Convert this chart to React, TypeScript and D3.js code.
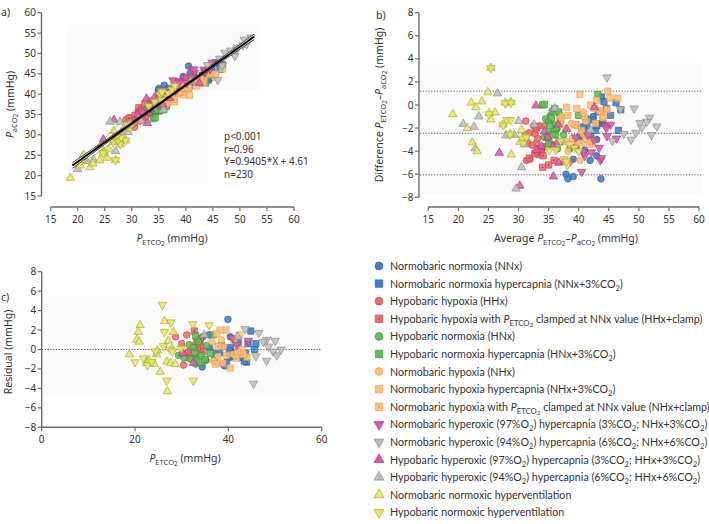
import React from "react";
import * as d3 from "d3";

// ---------- DATA ----------
// Panel b (Bland–Altman): [average of PETCO2 & PaCO2, difference PETCO2 − PaCO2]
const nnxB = [[37.9,-6.0],[38.2,-6.4],[39.1,-6.2],[43.7,-6.4],[41.9,-4.8],[43.0,-4.4],[41.0,-3.9],[39.6,-3.6],[40.5,-2.2],[41.4,-1.8],[42.4,-1.0],[43.0,-3.0],[39.1,-4.7],[38.5,-3.8],[42.0,-2.6],[44.0,-1.5],[40.0,-2.9]];
const nnxCo2B = [[43.8,0.7],[44.6,-0.3],[45.3,-0.9],[46.6,-2.2],[47.0,-0.4],[46.2,0.2],[42.4,-1.3],[40.2,-2.8],[41.6,-2.5],[43.8,-1.6],[43.2,-0.6],[41.2,-1.2],[42.8,-2.2],[44.2,0.3],[40.8,-1.9],[43.0,-1.8]];
const hhxB = [[31.2,-1.4],[31.2,-2.55],[31.8,-2.4],[32.7,-2.5],[33.0,-2.1],[31.3,-3.2],[31.6,-3.3],[32.3,-3.5],[33.0,-3.3],[31.3,-4.8],[31.9,-4.7],[33.5,-1.8],[33.2,-2.9],[34.3,-1.8],[32.5,-1.8]];
const hhxClampB = [[33.2,-4.1],[33.8,-4.0],[34.0,-5.4],[35.0,-5.2],[35.9,-4.8],[31.8,-4.6],[33.4,-4.3],[33.6,-3.8],[34.4,-3.6],[32.9,-1.9],[34.1,-4.4],[35.5,-3.5],[32.7,-4.2]];
const hnxB = [[34.5,-1.2],[35.0,-1.4],[35.3,-0.9],[35.8,-2.2],[36.2,-2.6],[34.9,-2.9],[35.5,-3.4],[36.5,-3.8],[37.0,-1.4],[36.8,-0.8],[35.0,-2.4],[34.3,-2.8],[37.5,-2.6],[36.0,-1.7],[35.6,-0.5],[37.2,-3.2],[36.4,-2.1],[34.8,-3.6]];
const hnxCo2B = [[34.0,0.0],[34.3,0.05],[36.0,-0.3],[36.7,-0.6],[35.5,-1.1],[35.0,-3.4],[36.3,-2.0],[34.8,-2.8],[43.2,0.9],[40.0,-0.9],[37.0,-1.1],[35.7,-2.6],[35.2,-1.8]];
const nhxB = [[40.8,-0.6],[37.2,-1.0],[38.8,-1.6],[39.5,-1.8],[39.8,-3.3],[40.2,-4.8],[38.2,-4.0],[41.2,-1.4],[38.0,-3.2],[40.7,-2.5],[39.3,-2.9],[37.7,-2.0],[36.8,-1.2]];
const nhxCo2B = [[40.2,0.9],[44.8,1.2],[45.2,0.6],[46.5,0.6],[43.9,-0.9],[38.0,-0.2],[39.7,-0.3],[42.0,0.0],[42.6,-0.3],[44.1,-1.1],[41.2,-3.0],[42.3,-3.3],[39.6,-1.7],[41.5,-2.6],[44.7,-0.4],[43.0,0.4]];
const nhxClampB = [[38.2,-0.9],[39.4,-1.7],[40.4,-3.3],[41.8,-3.4],[42.8,-1.6],[40.5,-2.2],[39.0,-2.9],[37.0,-1.4],[43.5,-0.5],[41.0,-1.0]];
const nHyper3B = [[40.5,-5.8],[43.4,-3.7],[42.1,-4.1],[43.6,-4.8],[44.4,-1.8],[45.3,-1.7],[44.7,-2.7],[46.3,-2.9],[41.0,-4.4],[41.5,-2.6],[39.5,-2.8],[40.8,-4.1],[38.6,-4.9],[42.5,-3.0],[44.6,-2.0],[43.8,-4.6]];
const nHyper6B = [[44.7,2.4],[46.9,-0.35],[49.2,-0.3],[51.8,-1.1],[51.3,-1.45],[50.2,-1.55],[50.5,-1.95],[53.0,-1.85],[52.1,-2.6],[48.7,-3.0],[49.5,-2.4],[45.6,-3.1],[47.5,-2.5]];
const hHyper3B = [[32.9,-0.05],[26.8,-4.15],[30.2,-7.0],[35.8,-6.2],[42.6,-0.2],[33.8,-3.6],[36.5,-3.2],[36.7,-5.0],[35.7,-3.6],[34.3,-2.3],[38.0,-2.1],[36.6,-1.7],[33.0,-3.9],[37.6,-4.9],[34.9,-2.8]];
const hHyper6B = [[26.5,1.0],[23.4,-1.0],[20.8,-1.65],[22.6,-1.9],[30.0,-1.4],[27.9,-2.65],[29.3,-2.6],[22.8,-3.75],[30.5,-5.4],[29.6,-7.25],[36.0,-0.3],[32.6,-1.7],[31.0,-3.4],[42.0,-2.2],[30.8,-2.9]];
const nnhvB = [[19.05,-0.8],[24.9,1.1],[22.15,0.2],[22.9,-0.2],[23.9,0.3],[26.1,-0.65],[25.4,-1.25],[21.5,-2.0],[30.5,-2.15],[30.25,-3.2],[22.3,-3.25],[23.1,-4.0],[28.8,-4.3],[25.4,3.2],[25.1,-0.7],[27.8,0.2],[28.75,0.25],[27.4,-1.7],[28.6,-2.5],[31.2,-2.8]];
const hnhvB = [[25.4,3.2],[25.1,-0.8],[27.8,0.15],[28.75,0.2],[27.45,-1.75],[28.1,-1.3],[28.7,-1.3],[28.6,-2.55],[30.6,-2.9],[37.6,-4.7],[38.1,-5.2],[38.5,-3.4],[39.3,-3.7],[37.0,-3.1],[38.0,-4.9],[40.0,-4.0],[35.1,-3.9],[36.2,-3.9],[30.8,-3.3],[31.3,-2.8]];

// Panel c: [PETCO2, residual]
const nnxC = [[39.9,3.1],[34.4,-1.8],[35.2,-1.1],[34.5,1.3],[35.9,1.5],[38.2,-0.4],[38.8,-1.5],[39.6,-1.3],[40.4,1.3],[38.9,0.3],[37.1,-0.4],[40.5,-0.8],[39.2,-1.7],[36.0,0.2]];
const nnxCo2C = [[44.8,1.9],[45.9,0.6],[43.9,-1.3],[43.7,-0.4],[42.1,0.7],[40.5,0.2],[41.5,-0.3],[42.8,-0.8],[44.2,0.6],[45.6,0.0],[41.0,-0.7],[43.4,-1.2],[38.5,0.4],[40.2,-0.1]];
const hhxC = [[28.7,1.3],[30.0,0.6],[30.4,-1.6],[31.1,1.5],[31.4,-0.2],[30.2,-0.4],[31.8,-0.7],[33.2,-0.4],[33.9,0.6],[33.2,1.0],[34.3,0.3],[31.5,-0.9],[32.5,0.4]];
const hhxClampC = [[32.7,1.9],[34.6,-0.2],[33.4,0.2],[32.0,-0.3],[34.0,1.1],[33.0,-0.7]];
const hnxC = [[29.3,-0.6],[31.6,0.5],[33.2,-1.1],[32.5,0.2],[34.2,-0.6],[33.0,-1.5],[35.3,0.4],[32.0,-1.0],[34.8,-1.2],[33.6,0.8],[30.5,-0.9]];
const hnxCo2C = [[36.8,1.5],[33.0,1.4],[34.0,-1.3],[36.2,-0.4],[35.0,-1.0],[37.0,-1.1],[32.8,-0.3]];
const nhxC = [[36.5,0.8],[37.8,-0.7],[39.0,0.3],[36.8,-1.2],[38.5,1.0],[41.0,-0.5]];
const nhxCo2C = [[39.5,2.0],[42.4,1.5],[38.2,2.0],[40.4,-1.9],[37.5,1.6],[41.2,0.9],[43.0,0.0],[38.8,-1.4],[44.0,-0.8],[42.0,-0.3]];
const nhxClampC = [[37.2,-1.5],[39.6,-0.6],[41.7,-0.9],[43.2,-0.5],[37.8,0.3]];
const nHyper3C = [[40.9,1.2],[44.3,0.9],[41.8,0.5]];
const nHyper6C = [[43.6,2.1],[46.5,1.7],[45.4,-3.5],[48.2,1.0],[50.0,0.9],[47.5,0.8],[48.6,0.3],[49.6,-0.2],[51.3,0.0],[50.4,-0.6],[48.2,-1.15],[45.9,-0.7]];
const hHyper3C = [[32.5,-1.4],[30.2,-0.4]];
const hHyper6C = [[34.8,1.5],[42.0,1.3]];
const nnhvC = [[18.8,-0.5],[21.1,2.5],[20.7,1.8],[20.4,1.0],[20.9,0.8],[22.5,-1.4],[23.0,-1.1],[24.1,-1.5],[24.8,-0.1],[24.6,-0.5],[25.4,-2.3],[26.3,2.9],[26.8,-1.25],[27.1,0.9],[27.6,-1.4],[26.9,-4.3],[28.2,1.8],[27.9,0.1],[28.6,-1.5]];
const hnhvC = [[25.9,4.6],[27.7,2.8],[26.3,1.8],[20.0,-1.3],[21.8,-0.9],[22.7,-1.6],[23.6,-1.3],[26.1,0.35],[27.5,0.0],[26.8,-3.2],[32.4,2.6],[32.5,-3.2],[35.9,2.5],[29.9,0.1],[28.0,-0.2],[24.4,-0.2]];

// Regression (panel a) and Bland–Altman lines (panel b)
const regSlope = 0.9405;
const regIntercept = 4.61;
const regRange = [19, 52.6];
const baMean = -2.45;
const baLimits = [1.2, -6.05];
const hvLines = [[[19.4, 22.0], [29.0, 34.3]], [[20.4, 22.4], [29.2, 31.0]]];
const statsText = ["p<0.001", "r=0.96", "Y=0.9405*X + 4.61", "n=230"];

// Tick labels
const aTicks = [15, 20, 25, 30, 35, 40, 45, 50, 55, 60];
const bXTicks = [15, 20, 25, 30, 35, 40, 45, 50, 55, 60];
const bYTicks = [-8, -6, -4, -2, 0, 2, 4, 6, 8];
const cXTicks = [0, 20, 40, 60];
const cYTicks = [-8, -6, -4, -2, 0, 2, 4, 6, 8];

// ---------- STYLE / GROUPS ----------
const C = {
  blue: ["#3e7fc6", "#2a5f9e"],
  red: ["#ef6d71", "#c4464c"],
  green: ["#63be5a", "#3c9236"],
  orange: ["#ffc07a", "#eea04e"],
  pink: ["#dc5ca4", "#a93a7b"],
  gray: ["#bfbfbf", "#8a8a8a"],
  yellow: ["#e8e865", "#a9a933"],
};

type Seg = { t: string; i?: boolean; s?: number };
const T = (t: string): Seg => ({ t });
const sub = (t: string): Seg => ({ t, s: 1 });
const PET: Seg[] = [{ t: "P", i: true }, { t: "ETCO", s: 1 }, { t: "2", s: 2 }];
const PA: Seg[] = [{ t: "P", i: true }, { t: "aCO", s: 1 }, { t: "2", s: 2 }];

const groups = [
  { b: nnxB, c: nnxC, shape: "circle", col: C.blue, dot: false, label: [T("Normobaric normoxia (NNx)")] },
  { b: nnxCo2B, c: nnxCo2C, shape: "square", col: C.blue, dot: false, label: [T("Normobaric normoxia hypercapnia (NNx+3%CO"), sub("2"), T(")")] },
  { b: hhxB, c: hhxC, shape: "circle", col: C.red, dot: false, label: [T("Hypobaric hypoxia (HHx)")] },
  { b: hhxClampB, c: hhxClampC, shape: "square", col: C.red, dot: true, label: [T("Hypobaric hypoxia with "), ...PET, T(" clamped at NNx value (HHx+clamp)")] },
  { b: hnxB, c: hnxC, shape: "circle", col: C.green, dot: false, label: [T("Hypobaric normoxia (HNx)")] },
  { b: hnxCo2B, c: hnxCo2C, shape: "square", col: C.green, dot: false, label: [T("Hypobaric normoxia hypercapnia (HNx+3%CO"), sub("2"), T(")")] },
  { b: nhxB, c: nhxC, shape: "circle", col: C.orange, dot: false, label: [T("Normobaric hypoxia (NHx)")] },
  { b: nhxCo2B, c: nhxCo2C, shape: "square", col: C.orange, dot: false, label: [T("Normobaric hypoxia hypercapnia (NHx+3%CO"), sub("2"), T(")")] },
  { b: nhxClampB, c: nhxClampC, shape: "square", col: C.orange, dot: true, label: [T("Normobaric hypoxia with "), ...PET, T(" clamped at NNx value (NHx+clamp)")] },
  { b: nHyper3B, c: nHyper3C, shape: "triDown", col: C.pink, dot: false, label: [T("Normobaric hyperoxic (97%O"), sub("2"), T(") hypercapnia (3%CO"), sub("2"), T("; NHx+3%CO"), sub("2"), T(")")] },
  { b: nHyper6B, c: nHyper6C, shape: "triDown", col: C.gray, dot: false, label: [T("Normobaric hyperoxic (94%O"), sub("2"), T(") hypercapnia (6%CO"), sub("2"), T("; NHx+6%CO"), sub("2"), T(")")] },
  { b: hHyper3B, c: hHyper3C, shape: "triUp", col: C.pink, dot: false, label: [T("Hypobaric hyperoxic (97%O"), sub("2"), T(") hypercapnia (3%CO"), sub("2"), T("; HHx+3%CO"), sub("2"), T(")")] },
  { b: hHyper6B, c: hHyper6C, shape: "triUp", col: C.gray, dot: false, label: [T("Hypobaric hyperoxic (94%O"), sub("2"), T(") hypercapnia (6%CO"), sub("2"), T("; HHx+6%CO"), sub("2"), T(")")] },
  { b: nnhvB, c: nnhvC, shape: "triUp", col: C.yellow, dot: false, label: [T("Normobaric normoxic hyperventilation")] },
  { b: hnhvB, c: hnhvC, shape: "triDown", col: C.yellow, dot: false, label: [T("Hypobaric normoxic hyperventilation")] },
];

// ---------- HELPERS ----------
const FONT = "'Noto Sans', 'DejaVu Sans', sans-serif";
const LFONT = "Lato, 'Noto Sans', sans-serif";
const AX = "#6b6b6b";
const TXT = "#333";

function markerPath(shape: string, r: number) {
  if (shape === "circle") return d3.symbol(d3.symbolCircle, Math.PI * r * r)() as string;
  if (shape === "square") return `M${-r},${-r}H${r}V${r}H${-r}Z`;
  const s = r * 2.45;
  const h = (s * Math.sqrt(3)) / 2;
  const k = shape === "triUp" ? 1 : -1;
  return `M0,${(-2 * h * k) / 3}L${s / 2},${(h * k) / 3}L${-s / 2},${(h * k) / 3}Z`;
}

function Marker({ x, y, g, r = 3.3, op = 0.88 }: any) {
  const rr = g.shape === "circle" ? r : g.shape === "square" ? r * 0.95 : r * 1.05;
  return (
    <g transform={`translate(${x},${y})`}>
      <path d={markerPath(g.shape, rr)} fill={g.col[0]} fillOpacity={op} stroke={g.col[1]} strokeOpacity={0.85} strokeWidth={0.8} />
      {g.dot && <rect x={-0.9} y={-0.9} width={1.8} height={1.8} fill={g.col[1]} />}
    </g>
  );
}

function Rich({ x, y, segs, fs, anchor = "start", rotate = 0, family = FONT, fill = TXT }: any) {
  const off = [0, fs * 0.28, fs * 0.42];
  const size = [fs, fs * 0.72, fs * 0.6];
  let prev = 0;
  const spans = (segs as Seg[]).map((s, k) => {
    const lv = s.s || 0;
    const dy = off[lv] - off[prev];
    prev = lv;
    return (
      <tspan key={k} dy={dy} fontSize={size[lv]} fontStyle={s.i ? "italic" : "normal"}>
        {s.t}
      </tspan>
    );
  });
  return (
    <text x={x} y={y} textAnchor={anchor} fontFamily={family} fontSize={fs} fill={fill}
      transform={rotate ? `rotate(${rotate},${x},${y})` : undefined}>
      {spans}
    </text>
  );
}

const fmt = (v: number) => (v < 0 ? "\u2212" + Math.abs(v) : String(v));

function YAxis({ x, scale, ticks }: any) {
  const d = scale.domain();
  return (
    <g>
      <line x1={x} x2={x} y1={scale(d[0])} y2={scale(d[1])} stroke={AX} strokeWidth={1.4} />
      {ticks.map((t: number) => (
        <g key={t}>
          <line x1={x - 4} x2={x} y1={scale(t)} y2={scale(t)} stroke={AX} strokeWidth={1.2} />
          <text x={x - 5.5} y={scale(t)} dy="0.35em" textAnchor="end" fontFamily={FONT} fontSize={10} fill={TXT}>{fmt(t)}</text>
        </g>
      ))}
    </g>
  );
}

function XAxis({ y, scale, ticks }: any) {
  const d = scale.domain();
  return (
    <g>
      <line x1={scale(d[0])} x2={scale(d[1])} y1={y} y2={y} stroke={AX} strokeWidth={1.4} />
      {ticks.map((t: number) => (
        <g key={t}>
          <line x1={scale(t)} x2={scale(t)} y1={y} y2={y + 4} stroke={AX} strokeWidth={1.2} />
          <text x={scale(t)} y={y + 16} textAnchor="middle" fontFamily={FONT} fontSize={10} fill={TXT}>{fmt(t)}</text>
        </g>
      ))}
    </g>
  );
}

// ---------- APP ----------
export default function App() {
  const xA = d3.scaleLinear().domain([15, 60]).range([50.7, 294]);
  const yA = d3.scaleLinear().domain([15, 60]).range([196, 12.7]);
  const xB = d3.scaleLinear().domain([15, 60]).range([428.3, 699]);
  const yB = d3.scaleLinear().domain([-8, 8]).range([197.3, 12.7]);
  const xC = d3.scaleLinear().domain([0, 60]).range([41.7, 321.7]);
  const yC = d3.scaleLinear().domain([-8, 8]).range([427.3, 271.7]);

  // regression line + CI band
  const xs = d3.range(regRange[0], regRange[1] + 0.01, 0.4);
  const hw = (x: number) => Math.sqrt(0.22 * 0.22 + Math.pow(0.038 * (x - 36), 2));
  const fit = (x: number) => regSlope * x + regIntercept;
  const line = d3.line<number>().x((x) => xA(x)).y((x) => yA(fit(x)));
  const upper = d3.line<number>().x((x) => xA(x)).y((x) => yA(fit(x) + hw(x)));
  const lower = d3.line<number>().x((x) => xA(x)).y((x) => yA(fit(x) - hw(x)));
  const band = d3.area<number>().x((x) => xA(x)).y0((x) => yA(fit(x) - hw(x))).y1((x) => yA(fit(x) + hw(x)));

  const legendY0 = 266;
  const legendStep = 17.6;

  return (
    <svg width={709} height={524} style={{ position: "absolute", left: 0, top: 0, background: "#fff" }}>
      {/* faint plot backgrounds */}
      <rect x={67} y={25} width={193} height={158} fill="#fbfbfb" />
      <rect x={208} y={90} width={54} height={94} fill="#ffffff" />
      <rect x={420} y={63} width={282} height={131} fill="#fbfbfb" />
      <rect x={43} y={297} width={277} height={99} fill="#fbfbfb" />

      {/* ---------- Panel a ---------- */}
      <text x={1} y={16} fontFamily={FONT} fontSize={10.5} fill={TXT}>a)</text>
      <YAxis x={41.5} scale={yA} ticks={aTicks} />
      <XAxis y={207} scale={xA} ticks={aTicks} />
      <Rich x={14} y={104.5} segs={[...PA, T(" (mmHg)")]} fs={10.5} anchor="middle" rotate={-90} />
      <Rich x={172} y={242} segs={[...PET, T(" (mmHg)")]} fs={10.5} anchor="middle" />
      {groups.map((g, gi) =>
        g.b.map((p, i) => (
          <Marker key={`a${gi}-${i}`} g={g} x={xA(p[0] + p[1] / 2)} y={yA(p[0] - p[1] / 2)} />
        ))
      )}
      {hvLines.map((l, i) => (
        <line key={i} x1={xA(l[0][0])} y1={yA(l[0][1])} x2={xA(l[1][0])} y2={yA(l[1][1])} stroke="#a9a933" strokeWidth={0.8} />
      ))}
      <path d={band(xs) as string} fill="#fff" fillOpacity={0.95} />
      <path d={upper(xs) as string} fill="none" stroke="#111" strokeWidth={0.8} />
      <path d={lower(xs) as string} fill="none" stroke="#111" strokeWidth={0.8} />
      <path d={line(xs) as string} fill="none" stroke="#000" strokeWidth={1.9} />
      {statsText.map((s, i) => (
        <text key={s} x={224} y={140} dy={i * 12.5} fontFamily={FONT} fontSize={10} fill={TXT}>{s}</text>
      ))}

      {/* ---------- Panel b ---------- */}
      <text x={376} y={19} fontFamily={FONT} fontSize={10.5} fill={TXT}>b)</text>
      <YAxis x={419} scale={yB} ticks={bYTicks} />
      <XAxis y={207} scale={xB} ticks={bXTicks} />
      <Rich x={383} y={105} segs={[T("Difference "), ...PET, T("\u2013"), ...PA, T(" (mmHg)")]} fs={10.5} anchor="middle" rotate={-90} />
      <Rich x={566} y={242} segs={[T("Average "), ...PET, T("\u2013"), ...PA, T(" (mmHg)")]} fs={10.5} anchor="middle" />
      {[baMean, ...baLimits].map((v) => (
        <line key={v} x1={420} x2={701} y1={yB(v)} y2={yB(v)} stroke="#444" strokeWidth={0.9} strokeDasharray="1.2,1.6" />
      ))}
      {groups.map((g, gi) =>
        g.b.map((p, i) => <Marker key={`b${gi}-${i}`} g={g} x={xB(p[0])} y={yB(p[1])} />)
      )}

      {/* ---------- Panel c ---------- */}
      <text x={1} y={301} fontFamily={FONT} fontSize={10.5} fill={TXT}>c)</text>
      <YAxis x={41.7} scale={yC} ticks={cYTicks} />
      <XAxis y={427.3} scale={xC} ticks={cXTicks} />
      <Rich x={12} y={352} segs={[T("Residual (mmHg)")]} fs={10.5} anchor="middle" rotate={-90} />
      <Rich x={185} y={462} segs={[...PET, T(" (mmHg)")]} fs={10.5} anchor="middle" />
      <line x1={42} x2={322} y1={yC(0)} y2={yC(0)} stroke="#444" strokeWidth={0.9} strokeDasharray="1.2,1.6" />
      {groups.map((g, gi) =>
        g.c.map((p, i) => <Marker key={`c${gi}-${i}`} g={g} x={xC(p[0])} y={yC(p[1])} />)
      )}

      {/* ---------- Legend ---------- */}
      {groups.map((g, i) => {
        const y = legendY0 + i * legendStep;
        return (
          <g key={`l${i}`}>
            <Marker g={g} x={379} y={y} r={3.9} op={1} />
            <Rich x={390} y={y + 4} segs={g.label} fs={10.7} family={LFONT} />
          </g>
        );
      })}
    </svg>
  );
}
